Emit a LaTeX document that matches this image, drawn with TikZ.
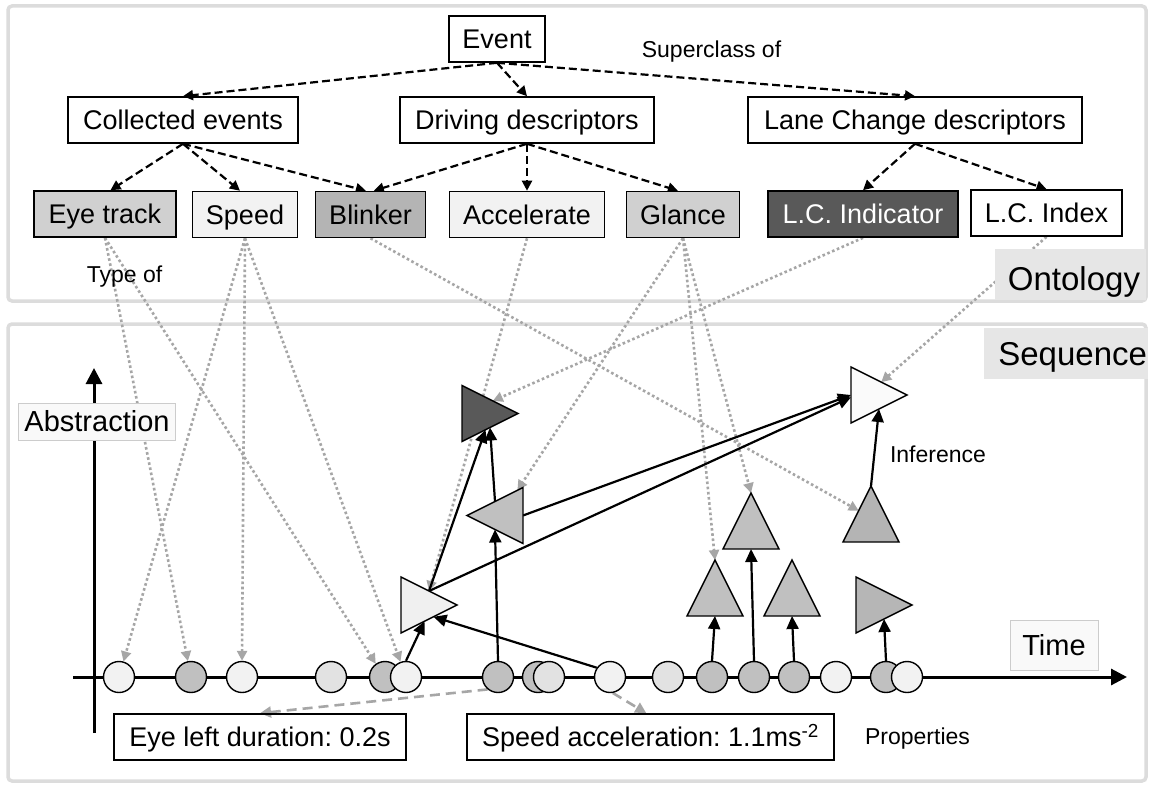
\documentclass[tikz,border=0pt]{standalone}
\usepackage{fontspec}
\setmainfont{Liberation Sans}
\usetikzlibrary{arrows.meta,shapes.geometric,calc}
\pgfdeclarelayer{back}
\pgfdeclarelayer{mid}
\pgfsetlayers{back,mid,main}
\definecolor{panelc}{HTML}{DCDCDC}
\definecolor{lblc}{HTML}{E6E6E6}
\definecolor{labfill}{HTML}{F9F9F9}
\definecolor{labline}{HTML}{CCCCCC}
\definecolor{ga}{HTML}{F2F2F2}
\definecolor{gb}{HTML}{E2E2E2}
\definecolor{gc}{HTML}{C0C0C0}
\definecolor{gd}{HTML}{B4B4B4}
\definecolor{ge}{HTML}{D0D0D0}
\definecolor{dk}{HTML}{595959}
\definecolor{dotc}{HTML}{A6A6A6}
\newcommand{\myfbig}{\fontsize{27pt}{30pt}\selectfont}
\newcommand{\myfsmall}{\fontsize{23pt}{26pt}\selectfont}
\newcommand{\myfaxis}{\fontsize{29pt}{32pt}\selectfont}
\newcommand{\myftitle}{\fontsize{33pt}{36pt}\selectfont}
\tikzset{
  box/.style={draw, line width=1.6pt, font=\myfbig, text height=19.3pt, text depth=0pt,
    minimum height=46pt, inner sep=0pt},
  circ/.style={circle, draw, line width=1.4pt, minimum size=31pt, inner sep=0pt},
  tri/.style={isosceles triangle, isosceles triangle stretches, draw, line width=1.4pt,
    minimum width=56pt, minimum height=56pt, inner sep=0pt, outer sep=0pt},
  dasharr/.style={line width=2.2pt, dash pattern=on 8pt off 4pt, -{Triangle[length=10pt,width=10pt]}},
  typarr/.style={dotc, line width=2.6pt, dash pattern=on 2.6pt off 2.6pt, -{Triangle[length=10pt,width=10pt]}},
  proparr/.style={dotc, line width=2.6pt, dash pattern=on 10pt off 6pt, -{Triangle[length=11pt,width=11pt]}},
  infarr/.style={line width=2.2pt, -{Triangle[length=13pt,width=12pt]}},
  axisarr/.style={line width=3pt, -{Triangle[length=16pt,width=16pt]}},
  lab/.style={draw=labline, line width=0.8pt, fill=labfill, font=\myfaxis, text height=20.8pt,
    text depth=0pt, inner sep=0pt},
  small/.style={font=\myfsmall, anchor=base, inner sep=0pt},
}
\begin{document}
\frenchspacing
\begin{tikzpicture}[x=1pt,y=-1pt]
\useasboundingbox (0,0) rectangle (1158,784);
% panels
\begin{pgfonlayer}{back}
\draw[panelc, line width=3.5pt, rounded corners=4pt, fill=white] (8,6) rectangle (1146,301);
\draw[panelc, line width=3.5pt, rounded corners=4pt, fill=white] (8,324) rectangle (1146,781);
\end{pgfonlayer}
\node[fill=lblc, minimum width=151pt, minimum height=51pt, font=\myftitle, text height=31.6pt,
  text depth=0pt, inner ysep=0pt, inner xsep=6pt, text width=139pt, align=right] (ont) at (1070.5,274.5) {Ontology};
\node[fill=lblc, minimum width=164pt, minimum height=51pt, font=\myftitle, text height=23pt,
  text depth=0pt, inner ysep=0pt, inner xsep=1pt, text width=162pt, align=right] (seq) at (1066,353.5) {Sequence};
% ontology boxes
\node[box, minimum width=96pt] (ev) at (497,39) {Event};
\node[box, minimum width=230pt] (coll) at (183,120) {Collected events};
\node[box, minimum width=254pt] (driv) at (527,120) {Driving descriptors};
\node[box, minimum width=334pt] (lane) at (915,120) {Lane Change descriptors};
\node[box, minimum width=142pt, fill=ge] (eye) at (105,214) {Eye track};
\node[box, minimum width=105pt, fill=ga] (spd) at (245,214.5) {Speed};
\node[box, minimum width=110pt, fill=gd] (bli) at (370.5,214.5) {Blinker};
\node[box, minimum width=155pt, fill=ga] (acc) at (527,214.5) {Accelerate};
\node[box, minimum width=113pt, fill=ge] (gla) at (683,214.5) {Glance};
\node[box, minimum width=190pt, fill=dk, text=white] (lci) at (863,214) {L.C. Indicator};
\node[box, minimum width=151pt, fill=white] (lcx) at (1046.5,213) {L.C. Index};
\node[small] (supl) at (711.5,57) {Superclass of};
\node[small] (typl) at (124.5,282) {Type of};
% axes
\coordinate (t0) at (73,677);
\coordinate (t1) at (1127,677);
\coordinate (a0) at (94,733);
\coordinate (a1) at (94,368);
\node[lab, minimum width=157pt, minimum height=37pt] (abs) at (97,421.5) {Abstraction};
\node[lab, minimum width=88pt, minimum height=50pt] (time) at (1054,645) {Time};
% events on the time line
\node[circ, fill=ga] (c1) at (119,677) {};
\node[circ, fill=gc] (c2) at (191,677) {};
\node[circ, fill=ga] (c3) at (242,677) {};
\node[circ, fill=gb] (c4) at (331,677) {};
\node[circ, fill=gc] (c5) at (385,677) {};
\node[circ, fill=ga] (c6) at (406,677) {};
\node[circ, fill=gc] (c7) at (498,677) {};
\node[circ, fill=gc] (c8) at (538,677) {};
\node[circ, fill=gb] (c9) at (549,677) {};
\node[circ, fill=ga] (c10) at (610,677) {};
\node[circ, fill=gb] (c11) at (668,677) {};
\node[circ, fill=gc] (c12) at (712,677) {};
\node[circ, fill=gc] (c13) at (754,677) {};
\node[circ, fill=gc] (c14) at (794,677) {};
\node[circ, fill=ga] (c15) at (836,677) {};
\node[circ, fill=gc] (c16) at (886,677) {};
\node[circ, fill=ga] (c17) at (907,677) {};
% abstractions
\node[tri, fill=ga!90!gb, anchor=apex] (T1) at (457,605) {};
\node[tri, fill=gc, shape border rotate=180, anchor=apex] (T2) at (467,515.5) {};
\node[tri, fill=dk, anchor=apex] (T3) at (518,413.5) {};
\node[tri, fill=white!98!black, anchor=apex] (T4) at (907,395) {};
\node[tri, fill=gd, shape border rotate=90, anchor=apex] (T5) at (871,486) {};
\node[tri, fill=gc, shape border rotate=90, anchor=apex] (T6) at (751,493) {};
\node[tri, fill=gc, shape border rotate=90, anchor=apex] (T7) at (715,560) {};
\node[tri, fill=gc, shape border rotate=90, anchor=apex] (T8) at (792,560) {};
\node[tri, fill=gc!95!black, anchor=apex] (T9) at (912,605) {};
\node[small] (infl) at (938,462) {Inference};
% properties
\node[box, minimum width=292pt] (el) at (260,737) {Eye left duration: 0.2s};
\node[box, minimum width=367pt] (sa) at (650.5,737) {Speed acceleration: 1.1ms\textsuperscript{-2}};
\node[small] (prl) at (917.5,744) {Properties};
\begin{pgfonlayer}{mid}
\draw[axisarr] (t0) -- (t1);
\draw[axisarr] (a0) -- (a1);
% superclass of
\draw[dasharr] (ev.south) -- (coll.north);
\draw[dasharr] (ev.south) -- (driv.north);
\draw[dasharr] (ev.south) -- (lane.north);
\draw[dasharr] (coll.south) -- (eye.77);
\draw[dasharr] (coll.south) -- (spd.102);
\draw[dasharr] (coll.south) -- (bli.101);
\draw[dasharr] (driv.south) -- (bli.82);
\draw[dasharr] (driv.south) -- (acc.north);
\draw[dasharr] (driv.south) -- (gla.102);
\draw[dasharr] (lane.south) -- (lci.north);
\draw[dasharr] (lane.south) -- (lcx.north);
% type of
\draw[typarr] (eye.south) -- (c2.101);
\draw[typarr] (eye.south) -- (c5.125);
\draw[typarr] (spd.south) -- (c1.74);
\draw[typarr] (spd.south) -- (c3.north);
\draw[typarr] (spd.south) -- (c6.110);
\draw[typarr] (bli.south) -- ($(T5.left corner)!0.56!(T5.apex)$);
\draw[typarr] (acc.south) -- (T1.left side);
\draw[typarr] (gla.south) -- ($(T2.apex)!0.9!(T2.right corner)$);
\draw[typarr] (gla.south) -- (T6.apex);
\draw[typarr] (gla.south) -- (T7.apex);
\draw[typarr] (lci.south) -- ($(T3.left corner)!0.55!(T3.apex)$);
\draw[typarr] (lcx.south) -- ($(T4.left corner)!0.54!(T4.apex)$);
% properties
\draw[proparr] (c7.-130) -- (el.north);
\draw[proparr] (c10.-80) -- (sa.100);
% inference
\draw[infarr] (c6.north) -- ($(T1.right corner)!0.42!(T1.apex)$);
\draw[infarr] (c10.145) -- ($(T1.right corner)!0.58!(T1.apex)$);
\draw[infarr] (c7.north) -- (T2.left side);
\draw[infarr] (T1.left side) -- ($(T3.right corner)!0.42!(T3.apex)$);
\draw[infarr] (T2.right side) -- ($(T3.right corner)!0.5!(T3.apex)$);
\draw[infarr] (T2.lower side) -- ($(T4.left corner)!0.5!(T4.right corner)$);
\draw[infarr] (T1.left side) -- ($(T4.left corner)!0.54!(T4.right corner)$);
\draw[infarr] (T5.apex) -- (T4.right side);
\draw[infarr] (c12.north) -- (T7.lower side);
\draw[infarr] (c13.north) -- (T6.lower side);
\draw[infarr] (c14.north) -- (T8.lower side);
\draw[infarr] (c16.north) -- (T9.right side);
\end{pgfonlayer}
\end{tikzpicture}
\end{document}
